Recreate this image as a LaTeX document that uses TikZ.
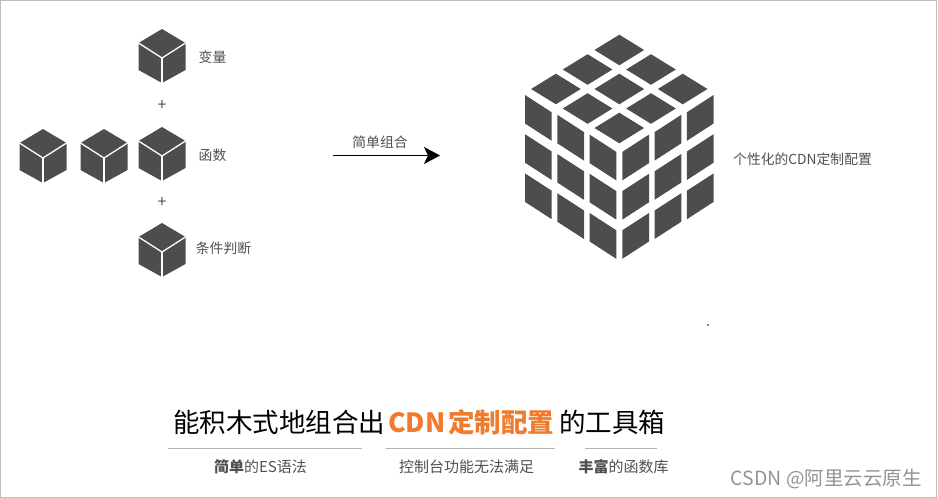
\documentclass[tikz,border=0pt]{standalone}
\usepackage{fontspec}
\usepackage{xcolor}
\usetikzlibrary{arrows.meta}
\setmainfont{Noto Sans CJK SC}
\definecolor{cubegray}{HTML}{4D4D4D}
\definecolor{labelgray}{HTML}{505050}
\definecolor{framegray}{HTML}{BDBDBD}
\definecolor{rulegray}{HTML}{B4B4B4}
\definecolor{titleorange}{HTML}{F07B2E}
\tikzset{
    minilabel/.style={text=labelgray,font=\fontsize{13.8}{16}\selectfont,inner sep=0pt},
    pluslabel/.style={text=labelgray,font=\fontsize{16}{16}\selectfont,inner sep=0pt},
    titlelabel/.style={text=black,font=\fontsize{26.5}{30}\selectfont,inner sep=0pt},
    sublabel/.style={text=labelgray,font=\fontsize{15}{18}\selectfont,inner sep=0pt},
    underrule/.style={draw=rulegray,line width=0.8pt},
    minicube/.pic={
        \fill[cubegray] (0,0) -- (23.5,14) -- (23.5,41) -- (0,54) -- (-23.5,41) -- (-23.5,14) -- cycle;
        \draw[white,line width=1.3pt] (-23.5,14) -- (0,29) -- (23.5,14);
        \draw[white,line width=1.3pt] (0,29) -- (0,54);
    }
}
\begin{document}
\begin{tikzpicture}[x=1pt,y=-1pt]
    \useasboundingbox (0,0) rectangle (938,498);
    \draw[framegray,line width=1pt] (0.5,0.5) rectangle (936.5,497.5);

    % small cubes
    \pic at (162,29) {minicube};
    \pic at (43,129) {minicube};
    \pic at (104,129) {minicube};
    \pic at (162,127) {minicube};
    \pic at (162,223) {minicube};
    \node[minilabel] (bianliang) at (212.5,57) {变量};
    \node[pluslabel] (plusone) at (162,106) {+};
    \node[minilabel] (hanshu) at (212.5,155) {函数};
    \node[pluslabel] (plustwo) at (162,203) {+};
    \node[minilabel] (tiaojian) at (223.5,248) {条件判断};

    % arrow
    \coordinate (arrowstart) at (333,155.5);
    \coordinate (arrowend) at (440,155.5);
    \draw[black,line width=1.6pt,-{Stealth[length=16pt,width=17pt,inset=4pt]}] (arrowstart) -- (arrowend);
    \node[minilabel] (zuhe) at (380,142) {简单组合};

    % big cube, top face
    \foreach \i in {0,1,2}
        \foreach \j in {0,1,2} {
            \fill[cubegray] ({619.3+(\i-\j)*31.7},{50+(\i+\j)*19.5-15.3}) -- ++(24.8,15.3) -- ++(-24.8,15.3) -- ++(-24.8,-15.3) -- cycle;
        }
    % big cube, side faces
    \foreach \i in {0,1,2}
        \foreach \j in {0,1,2} {
            \fill[cubegray] ({525+\i*32.3},{95+\i*19.8+\j*39.2}) -- ++(26.7,17.3) -- ++(0,28.5) -- ++(-26.7,-17.3) -- cycle;
            \fill[cubegray] ({713.6-\i*32.3},{95+\i*19.8+\j*39.2}) -- ++(-26.7,17.3) -- ++(0,28.5) -- ++(26.7,-17.3) -- cycle;
        }
    \node[minilabel,anchor=west] (gexing) at (733,159) {个性化的CDN定制配置};
    \fill[black] (708,325) circle (0.8);

    % title
    \node[titlelabel,anchor=west] (titleleft) at (173,422) {能积木式地组合出};
    \node[titlelabel,anchor=west,text=titleorange,font=\fontsize{26.5}{30}\selectfont\bfseries] (titlemid) at (388,422) {CDN\hspace{3pt}定制配置};
    \node[titlelabel,anchor=west] (titleright) at (559,422) {的工具箱};

    % rules under the title
    \coordinate (ruleonea) at (168,448.5);
    \coordinate (ruleoneb) at (362,448.5);
    \coordinate (ruletwoa) at (386,448.5);
    \coordinate (ruletwob) at (555,448.5);
    \coordinate (rulethreea) at (585,448.5);
    \coordinate (rulethreeb) at (657,448.5);
    \draw[underrule] (ruleonea) -- (ruleoneb);
    \draw[underrule] (ruletwoa) -- (ruletwob);
    \draw[underrule] (rulethreea) -- (rulethreeb);
    \node[sublabel] (subone) at (260.5,467) {\textbf{简单}的ES语法};
    \node[sublabel] (subtwo) at (466.5,467) {控制台功能无法满足};
    \node[sublabel] (subthree) at (623.5,467) {\textbf{丰富}的函数库};

    \node[text=gray!85,font=\fontsize{19.5}{22}\selectfont,inner sep=0pt,anchor=east] (watermark) at (922,479) {CSDN @阿里云云原生};
\end{tikzpicture}
\end{document}
